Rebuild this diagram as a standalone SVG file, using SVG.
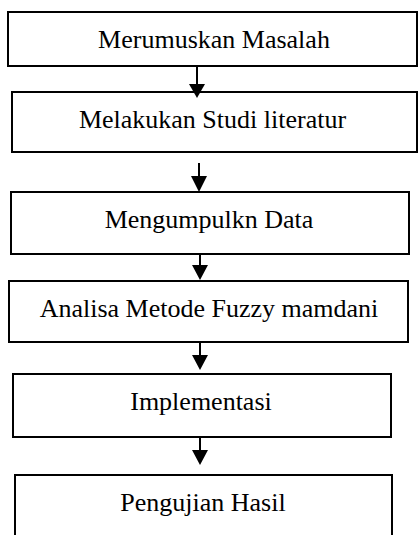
<svg xmlns="http://www.w3.org/2000/svg" width="418" height="535" viewBox="0 0 418 535">
<style>
.box{fill:#fff;stroke:#000;stroke-width:2}
.lbl{font-family:'Liberation Serif','Times New Roman',serif;font-size:26px;fill:#000;text-anchor:middle}
.arr{stroke:#000;stroke-width:2;fill:none}
.head{fill:#000}
</style>
<rect width="418" height="535" fill="#fff"/>
<g id="n1"><rect class="box" x="8" y="12" width="409" height="54"/><text class="lbl" x="214" y="48">Merumuskan Masalah</text></g>
<g id="n2"><rect class="box" x="12" y="92" width="405" height="60"/><text class="lbl" x="212.5" y="128">Melakukan Studi literatur</text></g>
<g id="n3"><rect class="box" x="11" y="192" width="398" height="62"/><text class="lbl" x="209" y="228">Mengumpulkn Data</text></g>
<g id="n4"><rect class="box" x="9" y="281" width="399" height="61"/><text class="lbl" x="209" y="317">Analisa Metode Fuzzy mamdani</text></g>
<g id="n5"><rect class="box" x="13" y="374" width="378" height="63"/><text class="lbl" x="201" y="410">Implementasi</text></g>
<g id="n6"><rect class="box" x="15" y="475" width="377" height="70"/><text class="lbl" x="203" y="511">Pengujian Hasil</text></g>
<g id="connectors">
<path d="M197,67 V84" class="arr"/><path class="head" d="M189,84 H205 L197,98 Z"/>
<path d="M199,163 V176" class="arr"/><path class="head" d="M191,176 H207 L199,192 Z"/>
<path d="M200,254 V265" class="arr"/><path class="head" d="M192,265 H208 L200,280 Z"/>
<path d="M200,342 V355" class="arr"/><path class="head" d="M192,355 H208 L200,370 Z"/>
<path d="M200,437 V450" class="arr"/><path class="head" d="M192,450 H208 L200,465 Z"/>
</g>
</svg>
